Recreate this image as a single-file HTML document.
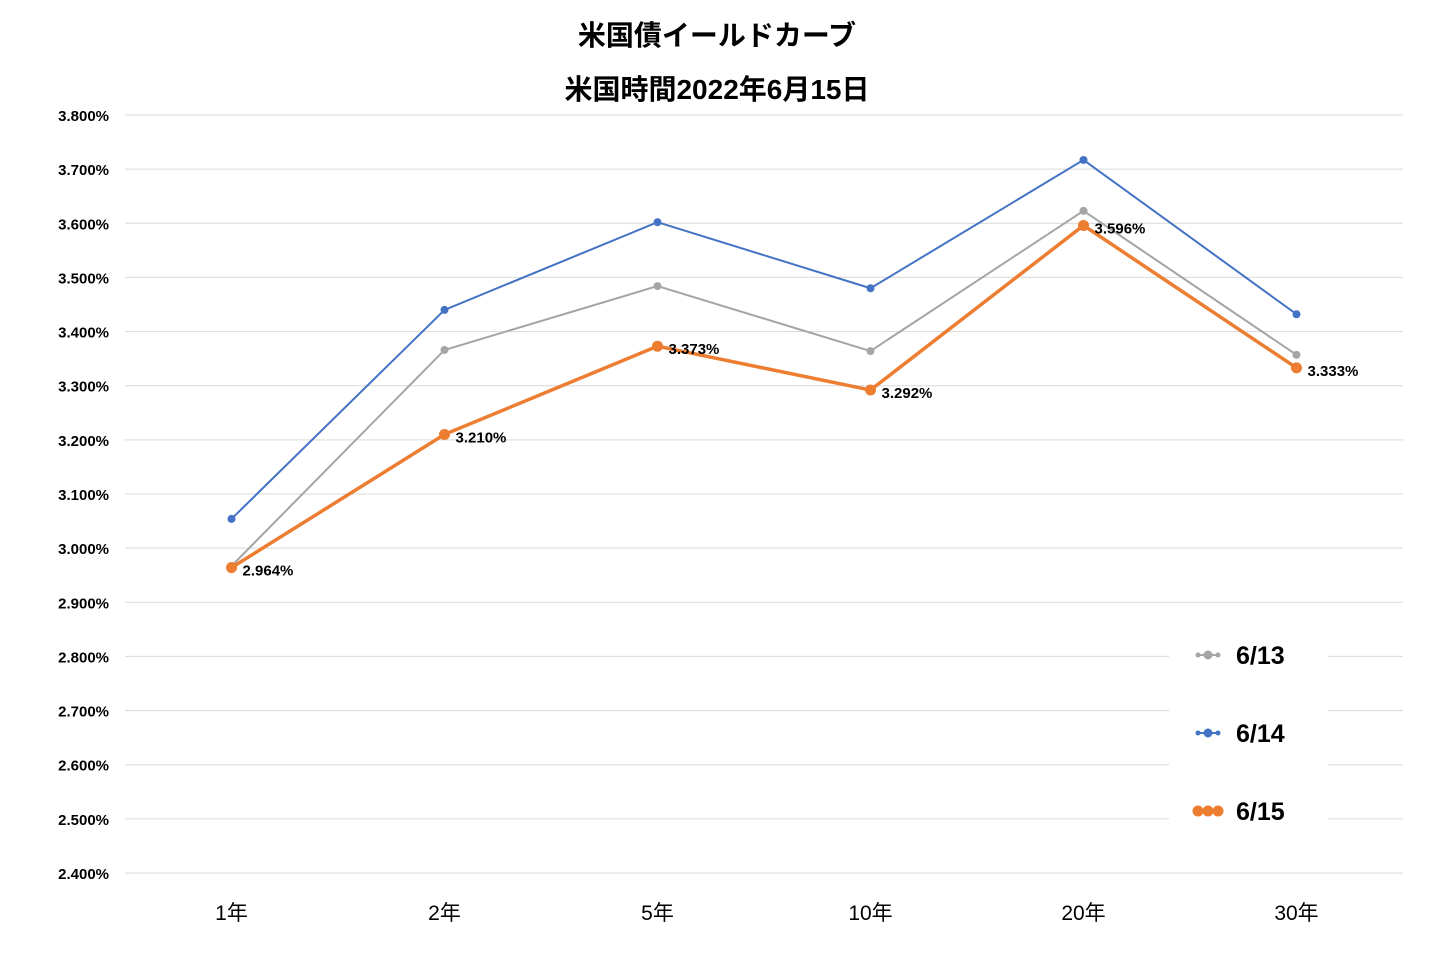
<!DOCTYPE html>
<html><head><meta charset="utf-8"><style>
body{margin:0;background:#fff;font-family:"Liberation Sans","Noto Sans CJK JP",sans-serif;}
svg text{font-family:"Liberation Sans","Noto Sans CJK JP",sans-serif;}
</style></head><body>
<svg id="chart" width="1437" height="965" xmlns="http://www.w3.org/2000/svg">
<rect width="1437" height="965" fill="#fff"/>
<text x="717" y="45" text-anchor="middle" font-size="28" font-weight="bold">米国債イールドカーブ</text>
<text x="717" y="99" text-anchor="middle" font-size="28" font-weight="bold">米国時間2022年6月15日</text>
<g id="grid"></g><g id="ylabels"></g><g id="xlabels"></g><g id="series"></g><g id="legend"></g>
</svg>
<script>
const categories=["1年","2年","5年","10年","20年","30年"];
const s613=[2.967,3.366,3.484,3.364,3.623,3.357];
const s614=[3.054,3.440,3.602,3.480,3.717,3.432];
const s615=[2.964,3.210,3.373,3.292,3.596,3.333];
const yTicks=[2.4,2.5,2.6,2.7,2.8,2.9,3.0,3.1,3.2,3.3,3.4,3.5,3.6,3.7,3.8];
const NS="http://www.w3.org/2000/svg";
const x0=125,x1=1403,yTop=115,yBot=873,yMin=2.4,yMax=3.8;
const y=v=>yBot-(v-yMin)/(yMax-yMin)*(yBot-yTop);
const bw=(x1-x0)/categories.length;
const x=i=>x0+bw*(i+0.5);
function mk(tag,attrs,parent){const e=document.createElementNS(NS,tag);for(const k in attrs)e.setAttribute(k,attrs[k]);parent.appendChild(e);return e;}
const grid=document.getElementById('grid'),yl=document.getElementById('ylabels'),xl=document.getElementById('xlabels'),ser=document.getElementById('series'),leg=document.getElementById('legend');
yTicks.forEach(t=>{
 const l=mk('line',{x1:x0,x2:x1,y1:y(t),y2:y(t),stroke:'#d9d9d9','stroke-width':1},grid);
 
 
 const tx=mk('text',{x:109,y:y(t)+6,'text-anchor':'end','font-size':15,'font-weight':'bold'},yl);
 tx.textContent=t.toFixed(3)+'%';
 
 
});
categories.forEach((c,i)=>{
 const tx=mk('text',{x:x(i),y:920,'text-anchor':'middle','font-size':21},xl);
 tx.textContent=c;
 
 
});
function draw(vals,color,w,r,name,labels){
 const g=mk('g',{},ser);
 
 
 const p=mk('polyline',{points:vals.map((v,i)=>x(i)+','+y(v)).join(' '),fill:'none',stroke:color,'stroke-width':w},g);
 
 
 vals.forEach((v,i)=>{
  const c=mk('circle',{cx:x(i),cy:y(v),r:r,fill:color},g);
  
  
  if(labels){
   const t=mk('text',{x:x(i)+11,y:y(v)+8,'font-size':15,'font-weight':'bold'},g);
   t.textContent=v.toFixed(3)+'%';
   
   
  }
 });
}
draw(s613,'#a5a5a5',2,4,'series-6-13',false);
draw(s614,'#4472c4',2,4,'series-6-14',false);
draw(s615,'#ed7d31',3.5,5.5,'series-6-15',true);
const bg=mk('rect',{x:1169,y:628,width:159,height:205,fill:'#fff'},leg);


[["6/13",'#a5a5a5',655,2,2.5,4.5],["6/14",'#4472c4',733,2,2.5,4.5],["6/15",'#ed7d31',811,3.5,5.5,5.5]].forEach(e=>{
 const g=mk('g',{},leg);
 
 
 mk('line',{x1:1198,x2:1218,y1:e[2],y2:e[2],stroke:e[1],'stroke-width':e[3]},g);
 mk('circle',{cx:1198,cy:e[2],r:e[4],fill:e[1]},g);
 mk('circle',{cx:1218,cy:e[2],r:e[4],fill:e[1]},g);
 mk('circle',{cx:1208,cy:e[2],r:e[5],fill:e[1]},g);
 const t=mk('text',{x:1236,y:e[2]+9,'font-size':25,'font-weight':'bold'},g);
 t.textContent=e[0];
});
</script>
</body></html>
